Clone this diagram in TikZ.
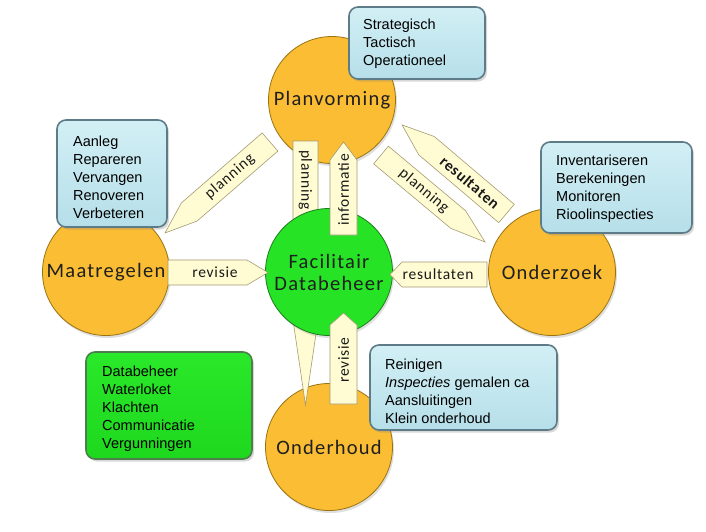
\documentclass[tikz,border=0pt]{standalone}
\usepackage{fontspec}
\setmainfont{Liberation Sans}
\newfontfamily\calfont{Carlito}[LetterSpace=6]
\newfontfamily\arrfont{Carlito}[LetterSpace=5]
\usetikzlibrary{shadows}
\definecolor{orA}{HTML}{FABD33}
\definecolor{orB}{HTML}{F4B025}
\definecolor{orC}{HTML}{D99A18}
\definecolor{orEdge}{HTML}{9A7410}
\definecolor{grA}{HTML}{26E326}
\definecolor{grB}{HTML}{1FD51F}
\definecolor{grC}{HTML}{16A816}
\definecolor{grEdge}{HTML}{1C7E1C}
\definecolor{blTop}{HTML}{D2EFF5}
\definecolor{blBot}{HTML}{B6DFE9}
\definecolor{blEdge}{HTML}{5E7C88}
\definecolor{gbTop}{HTML}{2AE82A}
\definecolor{gbBot}{HTML}{1ED81E}
\definecolor{gbEdge}{HTML}{4E7E4E}
\definecolor{arFill}{HTML}{FFFCD4}
\definecolor{arEdge}{HTML}{A39B74}
\pgfdeclareradialshading{orangeball}{\pgfpoint{0bp}{0bp}}{color(0bp)=(orA); color(38bp)=(orA); color(46bp)=(orB); color(50bp)=(orC)}
\pgfdeclareradialshading{greenball}{\pgfpoint{0bp}{0bp}}{color(0bp)=(grA); color(38bp)=(grA); color(46bp)=(grB); color(50bp)=(grC)}
\begin{document}
\begin{tikzpicture}[x=1pt,y=-1pt,
  orangecirc/.style={circle, minimum size=127pt, inner sep=0pt, shade, shading=orangeball,
    draw=orEdge, line width=0.8pt,
    drop shadow={shadow xshift=1.5pt,shadow yshift=-2.5pt,opacity=0.25},
    font=\calfont\fontsize{20.5}{22}\selectfont, text=black!88},
  greencirc/.style={orangecirc, shading=greenball, draw=grEdge, align=center},
  infobox/.style={rounded corners=9pt, draw=blEdge, line width=1.6pt, top color=blTop, bottom color=blBot,
    drop shadow={shadow xshift=2pt,shadow yshift=-2.5pt,opacity=0.3}, inner sep=0pt},
  greenbox/.style={infobox, top color=gbTop, bottom color=gbBot, draw=gbEdge},
  boxtext/.style={anchor=west, align=left, inner sep=0pt, font=\fontsize{14.5}{18}\selectfont},
  arrowbox/.style={fill=arFill, draw=arEdge, line width=0.6pt, line join=miter},
  arrowlabel/.style={inner sep=0pt, font=\arrfont\fontsize{15.5}{17}\selectfont, text=black!90}
]
\useasboundingbox (0,0) rectangle (706,531);
\fill[white] (0,0) rectangle (706,531);

% orange circles
\node[orangecirc] (plan) at (332,100) {Planvorming};
\node[orangecirc] (maat) at (106,272) {Maatregelen};
\node[orangecirc] (onderz) at (552,272) {Onderzoek};
\node[orangecirc] (onderh) at (329,447) {Onderhoud};

% vertical planning arrow (behind green circle)
\begin{scope}[shift={(305.5,141)},rotate=-90]
  \draw[arrowbox] (0,-12.5) -- (179,-12.5) -- (264,0) -- (179,12.5) -- (0,12.5) -- cycle;
  \node[arrowlabel,rotate=-90] (lplanv) at (39,0) {planning};
\end{scope}

% green circle
\node[greencirc] (fac) at (329,272) {Facilitair\\Databeheer};

% planning: Planvorming -> Maatregelen
\begin{scope}[shift={(270,142)},rotate=220.9]
  \draw[arrowbox] (0,-12) -- (106.9,-12) -- (138.9,0) -- (106.9,12) -- (0,12) -- cycle;
  \node[arrowlabel,rotate=40.9] (lplanm) at (53,0) {planning};
\end{scope}

% resultaten: Onderzoek -> Planvorming
\begin{scope}[shift={(506.5,213.5)},rotate=139.7]
  \draw[arrowbox] (0,-12) -- (104.9,-12) -- (136.9,0) -- (104.9,12) -- (0,12) -- cycle;
  \node[arrowlabel,rotate=-40.3,font=\arrfont\bfseries\fontsize{15.5}{17}\selectfont] (lresd) at (48,0) {resultaten};
\end{scope}

% planning: Planvorming -> Onderzoek
\begin{scope}[shift={(381,155)},rotate=-39.9]
  \draw[arrowbox] (0,-11.5) -- (100.6,-11.5) -- (135.6,0) -- (100.6,11.5) -- (0,11.5) -- cycle;
  \node[arrowlabel,rotate=-39.9] (lplano) at (56,0) {planning};
\end{scope}

% informatie: Facilitair -> Planvorming
\begin{scope}[shift={(343.5,235)},rotate=90]
  \draw[arrowbox] (0,-13.5) -- (75,-13.5) -- (93,0) -- (75,13.5) -- (0,13.5) -- cycle;
  \node[arrowlabel,rotate=90] (linfo) at (45,0) {informatie};
\end{scope}

% revisie: Onderhoud -> Facilitair
\begin{scope}[shift={(343.5,404)},rotate=90]
  \draw[arrowbox] (0,-13.5) -- (79,-13.5) -- (91,0) -- (79,13.5) -- (0,13.5) -- cycle;
  \node[arrowlabel,rotate=90] (lrevv) at (44,0) {revisie};
\end{scope}

% revisie: Maatregelen -> Facilitair
\begin{scope}[shift={(168,272.5)}]
  \draw[arrowbox] (0,-12.5) -- (79,-12.5) -- (100,0) -- (79,12.5) -- (0,12.5) -- cycle;
  \node[arrowlabel] (lrevh) at (47,0) {revisie};
\end{scope}

% resultaten: Onderzoek -> Facilitair
\begin{scope}[shift={(487,274.5)},rotate=180]
  \draw[arrowbox] (0,-12.5) -- (85,-12.5) -- (97,0) -- (85,12.5) -- (0,12.5) -- cycle;
  \node[arrowlabel] (lresh) at (49,0) {resultaten};
\end{scope}

% info boxes
\node[infobox, minimum width=136pt, minimum height=72pt] (bstrat) at (417,43) {};
\node[boxtext] (tstrat) at (363,43.5) {Strategisch\\Tactisch\\Operationeel};

\node[infobox, minimum width=110pt, minimum height=107pt] (baanleg) at (112,173.5) {};
\node[boxtext] (taanleg) at (73,177) {Aanleg\\Repareren\\Vervangen\\Renoveren\\Verbeteren};

\node[infobox, minimum width=151pt, minimum height=91pt] (binv) at (616.5,187.5) {};
\node[boxtext] (tinv) at (556,188.5) {Inventariseren\\Berekeningen\\Monitoren\\Rioolinspecties};

\node[infobox, minimum width=187pt, minimum height=85pt] (brein) at (463.5,387.5) {};
\node[boxtext] (trein) at (385,391) {Reinigen\\\textit{Inspecties} gemalen ca\\Aansluitingen\\Klein onderhoud};

\node[greenbox, minimum width=166pt, minimum height=107pt] (bdata) at (169,405.5) {};
\node[boxtext] (tdata) at (102,409) {Databeheer\\Waterloket\\Klachten\\Communicatie\\Vergunningen};
\end{tikzpicture}
\end{document}
